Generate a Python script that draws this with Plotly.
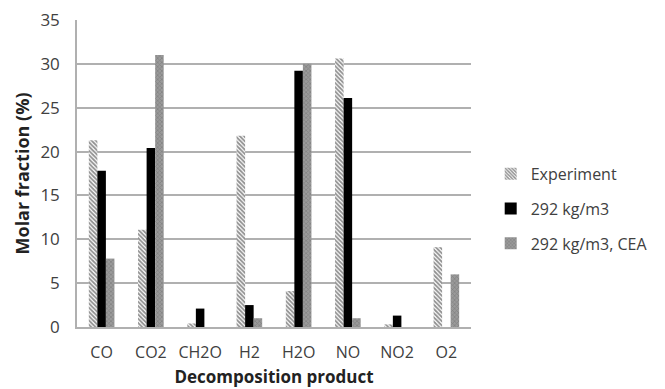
import plotly.graph_objects as go

categories = ["CO", "CO2", "CH2O", "H2", "H2O", "NO", "NO2", "O2"]
experiment = [21.3, 11.1, 0.4, 21.8, 4.1, 30.6, 0.3, 9.1]
sim_292 = [17.8, 20.4, 2.1, 2.5, 29.2, 26.1, 1.3, 0.0]
sim_292_cea = [7.8, 31.0, 0.0, 1.0, 30.0, 1.0, 0.0, 6.0]
y_ticks = [0, 5, 10, 15, 20, 25, 30, 35]

font_family = "Open Sans, Liberation Sans, sans-serif"

fig = go.Figure()
fig.add_trace(go.Bar(
    x=categories, y=experiment, name="Experiment", legendgroup="a",
    marker=dict(color="white", line=dict(width=0),
                pattern=dict(shape="\\", fgcolor="#222222", bgcolor="white", size=3, solidity=0.6)),
))
fig.add_trace(go.Bar(
    x=categories, y=sim_292, name="292 kg/m3", legendgroup="b",
    marker=dict(color="black", line=dict(width=0)),
))
fig.add_trace(go.Bar(
    x=categories, y=sim_292_cea, name="292 kg/m3, CEA", legendgroup="c",
    marker=dict(color="#8a8a8a", line=dict(width=0),
                pattern=dict(shape="x", fgcolor="#666666", bgcolor="#9a9a9a", size=3, solidity=0.4)),
))

fig.update_layout(
    width=665, height=389,
    margin=dict(l=77, r=171, t=20, b=62),
    plot_bgcolor="white", paper_bgcolor="white",
    barmode="group", bargap=0.48, bargroupgap=0,
    font=dict(family=font_family, size=16, color="#404040"),
    legend=dict(x=1.05, y=0.385, xanchor="left", yanchor="middle",
                traceorder="grouped", tracegroupgap=11,
                font=dict(size=16, color="#404040")),
    showlegend=True,
)
fig.update_xaxes(
    automargin=False,
    showline=True, linecolor="#b0b0b0", linewidth=1.5,
    ticks="", tickfont=dict(size=16), ticklabelstandoff=10,
    title=dict(text="<b>Decomposition product</b>", font=dict(size=17, color="#222222"), standoff=9),
)
fig.update_yaxes(
    automargin=False,
    range=[0, 35], tickvals=y_ticks, showgrid=True, gridcolor="#b0b0b0", gridwidth=1.5,
    showline=True, linecolor="#b0b0b0", linewidth=1.5, zeroline=False,
    ticks="", tickfont=dict(size=17), ticklabelstandoff=12,
    title=dict(text="<b>Molar fraction (%)</b>", font=dict(size=18, color="#222222"), standoff=6),
)

fig.write_html("out.html")
